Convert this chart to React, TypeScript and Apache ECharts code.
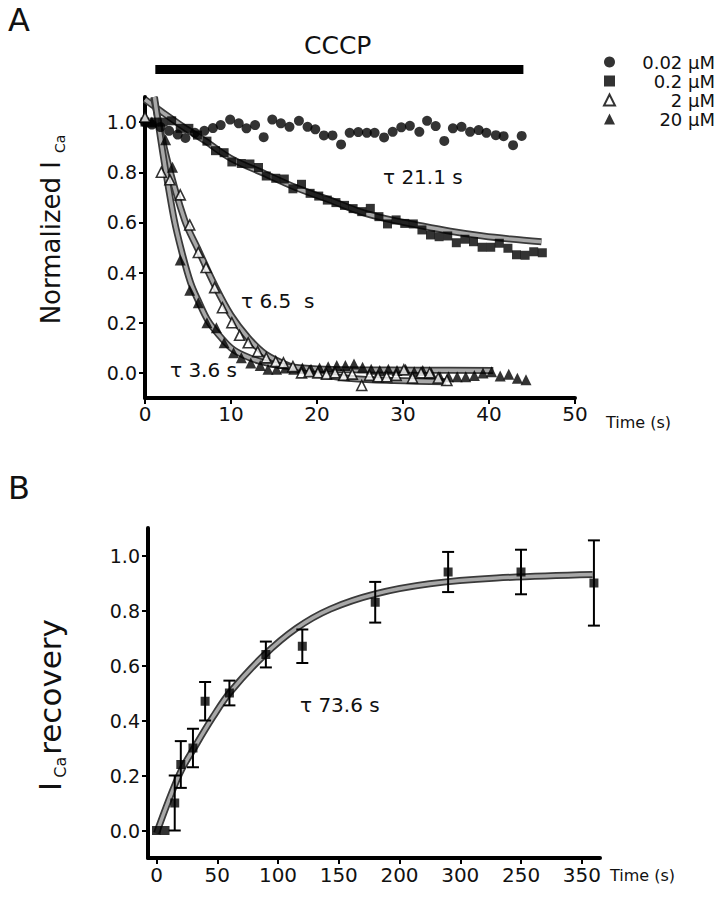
import React, { useEffect, useRef } from "react";
import * as echarts from "echarts";

const FONT = '"DejaVu Sans", sans-serif';

// ---------- Panel A : normalized I_Ca during CCCP ----------
const seriesNamesA = ["0.02 µM", "0.2 µM", "2 µM", "20 µM"];

const circleT = [0, 0.8, 1.8, 2.8, 3.8, 4.7, 5.8, 6.9, 7.9, 8.8, 9.9, 10.9, 11.8, 12.8, 13.8, 14.8, 15.8, 16.8, 17.9, 18.9, 19.8, 20.8, 21.8, 22.8, 23.8, 24.8, 25.8, 26.7, 27.8, 28.8, 29.8, 30.8, 31.9, 32.8, 33.8, 34.8, 35.8, 36.8, 37.8, 38.8, 39.7, 40.8, 41.7, 42.8, 43.8];
const circleV = [1.0, 0.99, 0.98, 0.965, 0.95, 0.937, 0.957, 0.965, 0.976, 0.988, 1.01, 0.995, 0.975, 0.988, 0.94, 1.01, 0.995, 0.981, 1.005, 0.981, 0.971, 0.947, 0.947, 0.911, 0.957, 0.96, 0.957, 0.957, 0.939, 0.961, 0.979, 0.985, 0.961, 1.005, 0.984, 0.925, 0.975, 0.981, 0.961, 0.968, 0.957, 0.948, 0.944, 0.908, 0.945];

const squareT = [0, 1.1, 2.1, 3.1, 4.1, 5.1, 6.1, 7.2, 8.2, 9.2, 10.1, 11.2, 12.2, 13.2, 14.1, 15.2, 16.2, 17.2, 18.2, 19.2, 20.2, 21.2, 22.2, 23.2, 24.2, 25.2, 26.2, 27.2, 28.2, 29.2, 30.2, 31.2, 32.2, 33.2, 34.2, 35.2, 36.2, 37.2, 38.2, 39.2, 40.2, 41.2, 42.2, 43.2, 44.2, 45.2, 46.2];
const squareV = [1.0, 1.0, 1.0, 1.005, 0.975, 0.975, 0.948, 0.924, 0.886, 0.878, 0.841, 0.835, 0.833, 0.819, 0.785, 0.776, 0.773, 0.734, 0.752, 0.716, 0.705, 0.689, 0.679, 0.668, 0.655, 0.643, 0.656, 0.623, 0.594, 0.61, 0.596, 0.594, 0.57, 0.55, 0.543, 0.546, 0.519, 0.533, 0.523, 0.501, 0.501, 0.517, 0.497, 0.471, 0.469, 0.483, 0.479];

const openT = [0, 1.9, 2.9, 4.1, 5.2, 6.2, 7.1, 8.1, 9.0, 10.1, 11.0, 12.0, 13.1, 14.1, 15.2, 16.1, 17.2, 18.2, 19.1, 20.1, 21.1, 22.1, 23.1, 24.1, 25.2, 26.1, 27.1, 28.1, 29.2, 30.1, 31.1, 32.1, 33.1, 34.1, 35.1];
const openV = [1.02, 0.8, 0.77, 0.71, 0.59, 0.48, 0.42, 0.34, 0.26, 0.2, 0.15, 0.12, 0.085, 0.06, 0.045, 0.04, 0.025, 0.0, 0.005, 0.0, -0.005, 0.0, -0.01, -0.005, -0.05, -0.01, -0.015, -0.015, -0.01, 0.012, -0.02, 0.0, 0.0, -0.02, -0.03];

const filledT = [0.8, 2.4, 3.2, 4.1, 5.2, 6.2, 7.2, 8.3, 9.2, 10.3, 11.2, 12.3, 13.4, 14.3, 15.3, 16.3, 17.3, 18.3, 19.3, 20.3, 21.3, 22.3, 23.3, 24.3, 25.3, 26.3, 27.3, 28.3, 29.3, 30.3, 31.3, 32.3, 33.3, 34.3, 35.3, 36.3, 37.3, 38.3, 39.3, 40.3, 41.3, 42.3, 43.3, 44.3];
const filledV = [1.0, 0.93, 0.82, 0.45, 0.33, 0.28, 0.2, 0.18, 0.12, 0.08, 0.06, 0.04, 0.03, 0.015, 0.015, 0.02, 0.015, 0.02, 0.015, 0.02, 0.025, 0.03, 0.03, 0.036, 0.023, 0.015, 0.01, 0.015, 0.01, 0.015, 0.005, 0.01, 0.0, -0.015, -0.015, -0.015, -0.015, -0.01, 0.0, 0.005, -0.012, -0.005, -0.021, -0.027];

// fitted curves
const fit02T = [0, 2.0, 4.5, 7.0, 10.0, 13.8, 17.6, 21.5, 25.0, 28.0, 31.6, 35.5, 39.3, 42.5, 46.1];
const fit02V = [1.09, 1.04, 0.98, 0.925, 0.855, 0.796, 0.738, 0.689, 0.643, 0.615, 0.59, 0.565, 0.546, 0.534, 0.523];
const fit2T = [1.0, 2.5, 4.6, 6.2, 8.1, 10.0, 12.0, 14.0, 17.0, 20.0, 24.0, 29.0, 35.0];
const fit2V = [1.1, 0.86, 0.61, 0.49, 0.35, 0.23, 0.14, 0.075, 0.025, -0.005, -0.022, -0.03, -0.035];
const fit20T = [1.1, 2.2, 3.4, 4.3, 5.3, 6.3, 7.3, 8.5, 10.0, 11.5, 13.5, 16, 20, 25, 32, 40.5];
const fit20V = [1.1, 0.85, 0.61, 0.48, 0.36, 0.28, 0.21, 0.155, 0.1, 0.07, 0.045, 0.028, 0.016, 0.012, 0.011, 0.01];

const cccpT = [1.2, 44.0];
const cccpLevel = 1.21;

const yTicksA = [0, 0.2, 0.4, 0.6, 0.8, 1.0];
const xTicksA = [0, 10, 20, 30, 40, 50];

// ---------- Panel B : recovery ----------
const recT = [0, 7, 15, 20, 30, 40, 60, 90, 120, 180, 240, 300, 360];
const recV = [0.0, 0.0, 0.1, 0.24, 0.3, 0.47, 0.5, 0.64, 0.67, 0.83, 0.94, 0.94, 0.9];
const recErr = [0, 0, 0.1, 0.085, 0.07, 0.07, 0.045, 0.047, 0.061, 0.074, 0.073, 0.081, 0.155];
const fitBT = [0, 19, 33, 46.5, 60, 88, 115, 143, 180, 225, 280, 359];
const fitBV = [-0.01, 0.206, 0.315, 0.413, 0.5, 0.635, 0.735, 0.805, 0.86, 0.897, 0.918, 0.931];

const xTicksB = [0, 50, 100, 150, 200, 250, 300, 350];
const xTickLabelsB = ["0", "50", "100", "150", "200", "300", "250", "350"];
const yTicksB = [0, 0.2, 0.4, 0.6, 0.8, 1.0];

const zip = (a: number[], b: number[]) => a.map((v, i) => [v, b[i]]);

export default function App() {
  const ref = useRef<HTMLDivElement>(null);
  useEffect(() => {
    document.body.style.margin = "0";
    const chart = echarts.init(ref.current!, null, { renderer: "svg" });
    const axisLine = { show: true, onZero: false, lineStyle: { color: "#000", width: 4 } };
    const axisTick = { show: true, length: 6, lineStyle: { color: "#000", width: 2 } };
    const lbl = { color: "#111", fontFamily: FONT, fontSize: 19 };

    // a fitted curve: dark outline under a lighter grey core (hatched band look)
    const fitLine = (name: string, t: number[], v: number[], xi: number, yi: number) => [
      {
        type: "line",
        name: name + " edge",
        xAxisIndex: xi,
        yAxisIndex: yi,
        data: zip(t, v),
        smooth: 0.35,
        symbol: "none",
        lineStyle: { color: "#3a3a3a", width: 7 },
        silent: true,
        z: 1,
      },
      {
        type: "line",
        name: name,
        xAxisIndex: xi,
        yAxisIndex: yi,
        data: zip(t, v),
        smooth: 0.35,
        symbol: "none",
        lineStyle: { color: "#a8a8a8", width: 3.5 },
        silent: true,
        z: 1,
      },
    ];

    const option: any = {
      animation: false,
      backgroundColor: "#fff",
      grid: [
        { left: 145, top: 97, width: 430, height: 301 },
        { left: 148, top: 528, width: 452, height: 330 },
      ],
      xAxis: [
        {
          type: "value",
          gridIndex: 0,
          min: 0,
          max: 50,
          axisLine,
          axisTick: { ...axisTick, customValues: xTicksA },
          axisLabel: { ...lbl, fontSize: 20, margin: 6, customValues: xTicksA },
          splitLine: { show: false },
        },
        {
          type: "value",
          gridIndex: 1,
          min: -7,
          max: 365,
          axisLine,
          axisTick: { ...axisTick, customValues: xTicksB },
          axisLabel: {
            ...lbl,
            fontSize: 20,
            margin: 7,
            customValues: xTicksB,
            formatter: (v: number) => xTickLabelsB[xTicksB.indexOf(Math.round(v))] ?? "",
          },
          splitLine: { show: false },
        },
      ],
      yAxis: [
        {
          type: "value",
          gridIndex: 0,
          min: -0.1,
          max: 1.1,
          axisLine,
          axisTick: { ...axisTick, customValues: yTicksA },
          axisLabel: { ...lbl, margin: 8, customValues: yTicksA, formatter: (v: number) => v.toFixed(1) },
          splitLine: { show: false },
          name: "{m|Normalized I}{sub|Ca}",
          nameLocation: "middle",
          nameRotate: 90,
          nameGap: 78,
          nameTextStyle: {
            fontFamily: FONT,
            fontSize: 26,
            color: "#111",
            rich: {
              m: { fontFamily: FONT, fontSize: 26, color: "#111", padding: [0, 0, 0, 36] },
              sub: { fontFamily: FONT, fontSize: 14, color: "#111", padding: [18, 0, 0, 8] },
            },
          },
        },
        {
          type: "value",
          gridIndex: 1,
          min: -0.1,
          max: 1.1,
          axisLine,
          axisTick: { ...axisTick, customValues: yTicksB },
          axisLabel: { ...lbl, margin: 8, customValues: yTicksB, formatter: (v: number) => v.toFixed(1) },
          splitLine: { show: false },
          name: "{m|I}{sub|Ca}{r|recovery}",
          nameLocation: "middle",
          nameRotate: 90,
          nameGap: 80,
          nameTextStyle: {
            fontFamily: FONT,
            fontSize: 31,
            color: "#111",
            rich: {
              m: { fontFamily: FONT, fontSize: 31, color: "#111" },
              sub: { fontFamily: FONT, fontSize: 16, color: "#111", padding: [20, 2, 0, 4] },
              r: { fontFamily: FONT, fontSize: 31, color: "#111", padding: [0, 24, 0, 0] },
            },
          },
        },
      ],
      legend: {
        orient: "vertical",
        left: 601,
        top: 51,
        padding: 2,
        itemGap: 1,
        itemWidth: 11,
        itemHeight: 11,
        formatter: (name: string) => `{r|${name}}`,
        textStyle: {
          fontFamily: FONT,
          fontSize: 18,
          color: "#111",
          rich: { r: { fontFamily: FONT, fontSize: 18, color: "#111", width: 95, align: "right", lineHeight: 19.5 } },
        },
        data: [
          { name: seriesNamesA[0], icon: "circle" },
          { name: seriesNamesA[1], icon: "rect" },
          { name: seriesNamesA[2], icon: "triangle" },
          { name: seriesNamesA[3], icon: "triangle" },
        ],
      },
      series: [
        ...fitLine("fit 0.2", fit02T, fit02V, 0, 0),
        ...fitLine("fit 2", fit2T, fit2V, 0, 0),
        ...fitLine("fit 20", fit20T, fit20V, 0, 0),
        {
          type: "line",
          name: "CCCP",
          xAxisIndex: 0,
          yAxisIndex: 0,
          data: cccpT.map((t) => [t, cccpLevel]),
          symbol: "none",
          clip: false,
          silent: true,
          lineStyle: { color: "#000", width: 9, cap: "butt" },
        },
        {
          type: "scatter",
          name: seriesNamesA[0],
          xAxisIndex: 0,
          yAxisIndex: 0,
          symbol: "circle",
          symbolSize: 10,
          itemStyle: { color: "#000" },
          data: zip(circleT, circleV),
          z: 3,
        },
        {
          type: "scatter",
          name: seriesNamesA[1],
          xAxisIndex: 0,
          yAxisIndex: 0,
          symbol: "rect",
          symbolSize: 9,
          itemStyle: { color: "#000" },
          data: zip(squareT, squareV),
          z: 3,
        },
        {
          type: "scatter",
          name: seriesNamesA[2],
          xAxisIndex: 0,
          yAxisIndex: 0,
          symbol: "triangle",
          symbolSize: 10,
          itemStyle: { color: "#fff", borderColor: "#000", borderWidth: 1.6 },
          data: zip(openT, openV),
          z: 4,
        },
        {
          type: "scatter",
          name: seriesNamesA[3],
          xAxisIndex: 0,
          yAxisIndex: 0,
          symbol: "triangle",
          symbolSize: 11,
          itemStyle: { color: "#000" },
          data: zip(filledT, filledV),
          z: 3,
        },
        ...fitLine("fit recovery", fitBT, fitBV, 1, 1),
        {
          type: "custom",
          name: "error",
          xAxisIndex: 1,
          yAxisIndex: 1,
          data: recT.map((t, i) => [t, recV[i], recErr[i]]),
          encode: { x: 0, y: 1 },
          silent: true,
          z: 2,
          renderItem: (params: any, api: any) => {
            const x = api.value(0);
            const y = api.value(1);
            const e = api.value(2);
            if (!e) return { type: "group", children: [] };
            const top = api.coord([x, y + e]);
            const bot = api.coord([x, y - e]);
            const hw = 6;
            const st = { stroke: "#000", lineWidth: 2 };
            return {
              type: "group",
              children: [
                { type: "line", shape: { x1: top[0], y1: top[1], x2: bot[0], y2: bot[1] }, style: st },
                { type: "line", shape: { x1: top[0] - hw, y1: top[1], x2: top[0] + hw, y2: top[1] }, style: st },
                { type: "line", shape: { x1: bot[0] - hw, y1: bot[1], x2: bot[0] + hw, y2: bot[1] }, style: st },
              ],
            };
          },
        },
        {
          type: "scatter",
          name: "recovery",
          xAxisIndex: 1,
          yAxisIndex: 1,
          symbol: "rect",
          symbolSize: 9,
          itemStyle: { color: "#000" },
          data: zip(recT, recV),
          z: 4,
        },
      ],
      graphic: [
        { type: "text", left: 8, top: 4, style: { text: "A", fontFamily: FONT, fontSize: 32, fill: "#111" } },
        { type: "text", left: 8, top: 472, style: { text: "B", fontFamily: FONT, fontSize: 32, fill: "#111" } },
        { type: "text", left: 304, top: 33, style: { text: "CCCP", fontFamily: FONT, fontSize: 25, fill: "#111" } },
        { type: "text", left: 606, top: 414, style: { text: "Time (s)", fontFamily: FONT, fontSize: 16, fill: "#111" } },
        { type: "text", left: 610, top: 867, style: { text: "Time (s)", fontFamily: FONT, fontSize: 16, fill: "#111" } },
        { type: "text", left: 383, top: 167, style: { text: "τ 21.1 s", fontFamily: FONT, fontSize: 20, fill: "#111" } },
        { type: "text", left: 241, top: 291, style: { text: "τ 6.5  s", fontFamily: FONT, fontSize: 20, fill: "#111" } },
        { type: "text", left: 170, top: 360, style: { text: "τ 3.6 s", fontFamily: FONT, fontSize: 20, fill: "#111" } },
        { type: "text", left: 300, top: 695, style: { text: "τ 73.6 s", fontFamily: FONT, fontSize: 20, fill: "#111" } },
      ],
    };
    chart.setOption(option);
    return () => chart.dispose();
  }, []);
  return <div ref={ref} style={{ width: 721, height: 899 }} />;
}
